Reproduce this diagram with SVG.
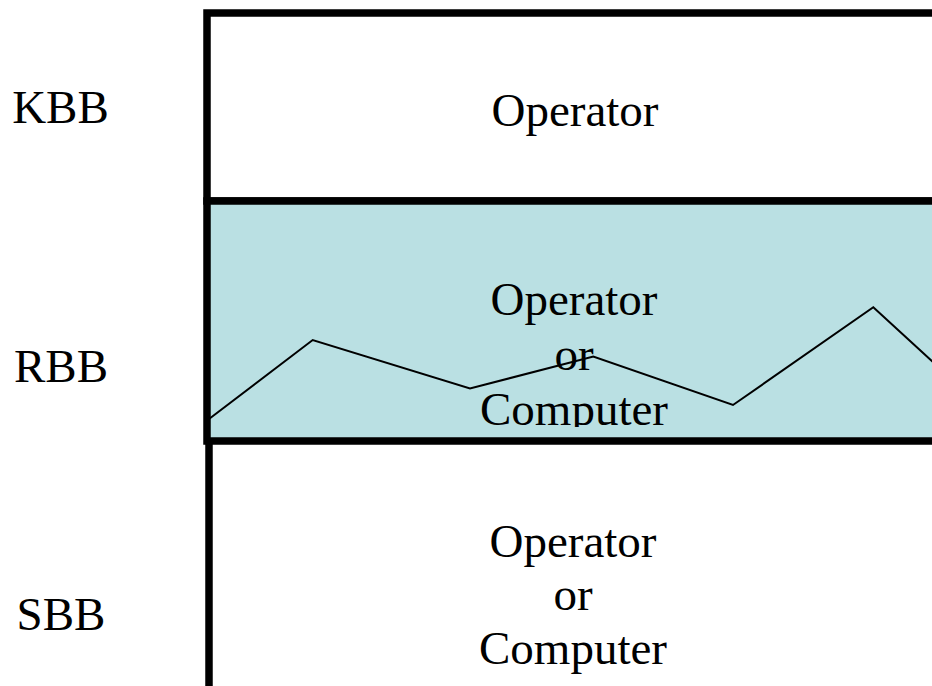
<svg xmlns="http://www.w3.org/2000/svg" width="932" height="686" viewBox="0 0 932 686">
  <style>
    .t { font-family: "Liberation Serif", "Times New Roman", serif; font-size: 47px; fill: #000; }
    .c { text-anchor: middle; }
    .border { fill: none; stroke: #000; stroke-width: 7.5; }
  </style>
  <defs>
    <clipPath id="rbbClip">
      <rect x="211" y="205" width="721" height="222"/>
    </clipPath>
  </defs>
  <rect x="0" y="0" width="932" height="686" fill="#fff"/>

  <g id="kbb">
    <rect class="border" x="207" y="13" width="740" height="188" fill="#fff"/>
    <text class="t c" x="575" y="126">Operator</text>
  </g>

  <g id="rbb">
    <rect x="207" y="201" width="740" height="240" fill="#BAE0E3"/>
    <g clip-path="url(#rbbClip)">
      <text class="t c" x="574" y="315">Operator</text>
      <text class="t c" x="574" y="370">or</text>
      <text class="t c" x="574" y="425">Computer</text>
    </g>
  </g>

  <g id="connectors">
    <polyline points="209,419 312.7,340 470,388.5 593.3,356.5 733,405 873.3,307.3 934,363" fill="none" stroke="#000" stroke-width="2"/>
  </g>

  <g id="rbb-border">
    <rect class="border" x="207" y="201" width="740" height="240"/>
  </g>

  <g id="sbb">
    <line x1="209" y1="441" x2="209" y2="686" stroke="#000" stroke-width="7.5"/>
    <text class="t c" x="573" y="557">Operator</text>
    <text class="t c" x="573" y="610">or</text>
    <text class="t c" x="573" y="664">Computer</text>
  </g>

  <g id="labels">
    <text class="t c" x="60.5" y="123">KBB</text>
    <text class="t c" x="61" y="382">RBB</text>
    <text class="t c" x="61" y="630">SBB</text>
  </g>
</svg>
